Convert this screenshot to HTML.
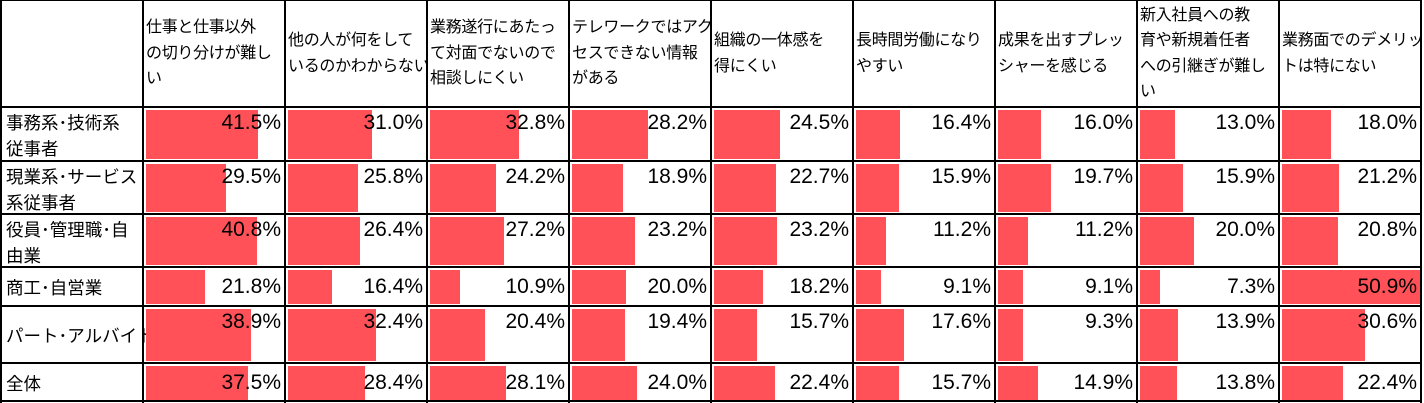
<!DOCTYPE html>
<html><head><meta charset="utf-8">
<style>
html,body{margin:0;padding:0;background:#fff;}
#wrap{position:relative;width:1424px;height:403px;overflow:hidden;font-family:"Liberation Sans","Noto Sans CJK JP",sans-serif;color:#000;}
.vl,.hl{position:absolute;background:#000;}
.hdr{position:absolute;font-size:16px;line-height:25.5px;display:flex;align-items:center;padding:0 3px;box-sizing:border-box;white-space:nowrap;overflow:hidden;letter-spacing:-0.3px;}
.lab{position:absolute;font-size:17.5px;line-height:26px;padding-left:5px;padding-top:3px;box-sizing:border-box;white-space:nowrap;}
.bar{position:absolute;background:#FF5157;}
.val{position:absolute;font-size:21px;text-align:right;line-height:26px;}
</style></head><body>
<div id="wrap"></div>
<script>
const categories=["仕事と仕事以外\nの切り分けが難し\nい","他の人が何をして\nいるのかわからない","業務遂行にあたっ\nて対面でないので\n相談しにくい","テレワークではアク\nセスできない情報\nがある","組織の一体感を\n得にくい","長時間労働になり\nやすい","成果を出すプレッ\nシャーを感じる","新入社員への教\n育や新規着任者\nへの引継ぎが難し\nい","業務面でのデメリッ\nトは特にない"];
const groups=["事務系･技術系\n従事者","現業系･サービス\n系従事者","役員･管理職･自\n由業","商工･自営業","パート･アルバイト","全体"];
const values0=[41.5,31.0,32.8,28.2,24.5,16.4,16.0,13.0,18.0];
const values1=[29.5,25.8,24.2,18.9,22.7,15.9,19.7,15.9,21.2];
const values2=[40.8,26.4,27.2,23.2,23.2,11.2,11.2,20.0,20.8];
const values3=[21.8,16.4,10.9,20.0,18.2,9.1,9.1,7.3,50.9];
const values4=[38.9,32.4,20.4,19.4,15.7,17.6,9.3,13.9,30.6];
const values5=[37.5,28.4,28.1,24.0,22.4,15.7,14.9,13.8,22.4];
const series=[values0,values1,values2,values3,values4,values5];
const W=document.getElementById('wrap');
const colX=[1,143,285,427,569,711,853,995,1137,1279,1421];
const rowY=[0,107,161,214,267,306,363,402];
const pxPer=2.71;
function xs(v){return v*pxPer;}
function mk(cls,st){const d=document.createElement('div');d.className=cls;Object.assign(d.style,st);W.appendChild(d);return d;}
categories.forEach((c,i)=>{
 const d=mk('hdr',{left:colX[i+1]+'px',top:'0px',width:(colX[i+2]-colX[i+1])+'px',height:rowY[1]+'px'});
 d.innerHTML='<div>'+c.split('\n').join('<br>')+'</div>';
 
 
});
groups.forEach((g,r)=>{
 const y0=rowY[r+1],y1=rowY[r+2];
 const single=g.indexOf('\n')<0;
 const l=mk('lab',{left:colX[0]+'px',top:(single?y0+(y1-y0-26)/2-2:y0)+'px',width:(colX[1]-colX[0])+'px',height:(y1-y0)+'px'});
 l.innerHTML=g.split('\n').join('<br>');
 
 
 series[r].forEach((v,i)=>{
  const x0=colX[i+1];
  const b=mk('bar',{left:(x0+3)+'px',top:(y0+3)+'px',width:xs(v)+'px',height:(y1-y0-5)+'px'});
  
  
  const t=mk('val',{left:x0+'px',top:(y0+(y1-y0<45?(y1-y0-26)/2:3))+'px',width:(colX[i+2]-x0-4)+'px'});
  t.textContent=v.toFixed(1)+'%';
  
  
 });
});
colX.forEach(x=>{const d=mk('vl',{left:(x-1)+'px',top:'0px',width:'2px',height:'403px'});});
rowY.forEach(y=>{const d=mk('hl',{left:'0px',top:(Math.min(y,401)-1)+'px',width:'1422px',height:'2px'});});
</script>
</body></html>
